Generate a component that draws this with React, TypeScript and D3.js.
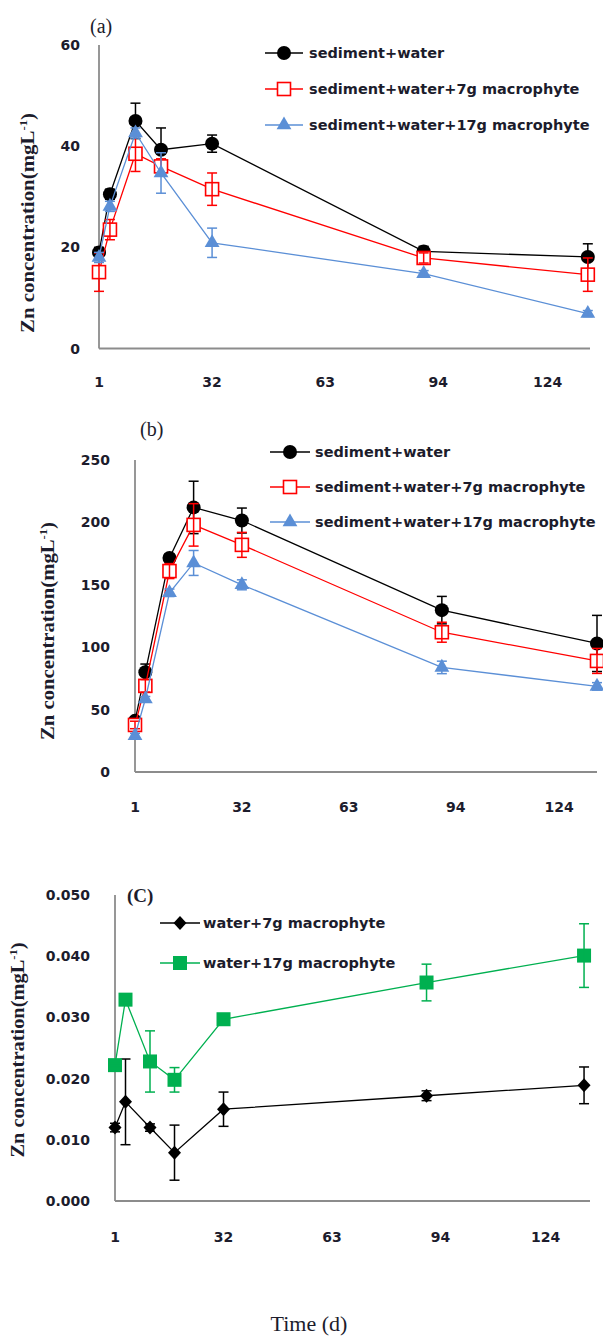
import React from "react";
import * as d3 from "d3";

const days = [1, 4, 11, 18, 32, 90, 135];
const xTicks = [1, 32, 63, 94, 124];

// Panel (a)
const aTicks = [0, 20, 40, 60];
const aSW = [19, 30.5, 45, 39.3, 40.5, 19.2, 18.1];
const aSWErr = [1, 1, 3.5, 4.3, 1.7, 1, 2.6];
const aSW7 = [15.1, 23.5, 38.5, 36, 31.5, 17.9, 14.6];
const aSW7Err = [3.8, 2, 3.5, 1.5, 3.2, 1, 3.3];
const aSW17 = [18, 28.1, 42.6, 34.7, 20.9, 14.8, 6.9];
const aSW17Err = [1, 1, 1, 4, 2.9, 0.6, 0.6];

// Panel (b)
const bTicks = [0, 50, 100, 150, 200, 250];
const bSW = [41, 80, 171.5, 212, 201.5, 129.7, 103];
const bSWErr = [3, 6.5, 3, 21, 10, 11, 22.5];
const bSW7 = [37.7, 69, 161, 198, 182, 112, 89];
const bSW7Err = [3, 5, 6, 17, 10, 8, 10];
const bSW17 = [29, 58.5, 143.6, 167.5, 150, 83.8, 68.6];
const bSW17Err = [2, 2, 3, 10, 4, 5, 3];

// Panel (c)
const cTicks = [0, 0.01, 0.02, 0.03, 0.04, 0.05];
const cW7 = [0.012, 0.0162, 0.012, 0.0079, 0.015, 0.0172, 0.0189];
const cW7Err = [0.0007, 0.007, 0.0006, 0.0045, 0.0028, 0.0008, 0.003];
const cW17 = [0.0222, 0.0329, 0.0228, 0.0198, 0.0297, 0.0357, 0.0401];
const cW17Err = [0.0003, 0.0005, 0.005, 0.002, 0.0003, 0.003, 0.0052];

const BLUE = "#5b8fd6";
const GREEN = "#00b050";
const AXIS = "#8c8c8c";
const TXT = "#1c1c2c";
const TICKFONT = "'DejaVu Sans', sans-serif";
const SERIF = "'Liberation Serif', 'Times New Roman', serif";

type MarkerKind = "circle" | "openSquare" | "triangle" | "diamond" | "square";

function Marker({ kind, x, y, color }: { kind: MarkerKind; x: number; y: number; color: string }) {
  if (kind === "circle") return <circle cx={x} cy={y} r={7} fill={color} />;
  if (kind === "openSquare")
    return <rect x={x - 6.5} y={y - 6.5} width={13} height={13} fill="white" stroke={color} strokeWidth={1.6} />;
  if (kind === "square") return <rect x={x - 7} y={y - 7} width={14} height={14} fill={color} />;
  if (kind === "triangle") {
    const p = d3.symbol().type(d3.symbolTriangle).size(95)();
    return <path d={p || ""} transform={`translate(${x},${y})`} fill={color} />;
  }
  return <path d={`M${x},${y - 7}L${x + 6.5},${y}L${x},${y + 7}L${x - 6.5},${y}Z`} fill={color} />;
}

type Series = { label: string; values: number[]; err: number[]; color: string; marker: MarkerKind };

type PanelProps = {
  x0: number; x1: number; xMax: number;
  yTop: number; yBottom: number; yTicks: number[]; yMax: number; fmt: (v: number) => string;
  yLabelRight: number; xLabelY: number;
  series: Series[];
  legend: { x0: number; x1: number; mx: number; tx: number; ys: number[] };
  title: { x: number; cy: number; len: number };
  tag: { text: string; x: number; y: number; bold: boolean };
};

function Panel(p: PanelProps) {
  const xs = d3.scaleLinear().domain([1, p.xMax]).range([p.x0, p.x1]);
  const ys = d3.scaleLinear().domain([0, p.yMax]).range([p.yBottom, p.yTop]);
  const line = d3.line<number>().x((_, i) => xs(days[i])).y((v) => ys(v));
  return (
    <g>
      <line x1={p.x0} x2={p.x0} y1={p.yTop} y2={p.yBottom} stroke={AXIS} strokeWidth={1.8} />
      <line x1={p.x0} x2={p.x1} y1={p.yBottom} y2={p.yBottom} stroke={AXIS} strokeWidth={1.8} />
      {p.yTicks.map((t) => (
        <text key={t} x={p.yLabelRight} y={ys(t)} dy="0.36em" textAnchor="end" fontFamily={TICKFONT} fontWeight="bold" fontSize={14} fill={TXT}>
          {p.fmt(t)}
        </text>
      ))}
      {xTicks.map((t) => (
        <text key={t} x={xs(t)} y={p.xLabelY} dy="0.36em" textAnchor="middle" fontFamily={TICKFONT} fontWeight="bold" fontSize={14} fill={TXT}>
          {t}
        </text>
      ))}
      {p.series.map((s) => (
        <g key={s.label}>
          <path d={line(s.values) || ""} fill="none" stroke={s.color} strokeWidth={1.3} />
          {s.values.map((v, i) => (
            <Marker key={i} kind={s.marker} x={xs(days[i])} y={ys(v)} color={s.color} />
          ))}
          {s.values.map((v, i) => {
            const cx = xs(days[i]);
            const t = ys(v + s.err[i]);
            const b = ys(Math.max(0, v - s.err[i]));
            return (
              <g key={"e" + i} stroke={s.color} strokeWidth={1.5}>
                <line x1={cx} x2={cx} y1={t} y2={b} />
                <line x1={cx - 5} x2={cx + 5} y1={t} y2={t} />
                <line x1={cx - 5} x2={cx + 5} y1={b} y2={b} />
              </g>
            );
          })}
        </g>
      ))}
      {p.series.map((s, i) => (
        <g key={"l" + i}>
          <line x1={p.legend.x0} x2={p.legend.x1} y1={p.legend.ys[i]} y2={p.legend.ys[i]} stroke={s.color} strokeWidth={1.5} />
          <Marker kind={s.marker} x={p.legend.mx} y={p.legend.ys[i]} color={s.color} />
          <text x={p.legend.tx} y={p.legend.ys[i]} dy="0.36em" fontFamily={TICKFONT} fontWeight="bold" fontSize={14.5} fill={TXT}>
            {s.label}
          </text>
        </g>
      ))}
      <text
        transform={`translate(${p.title.x},${p.title.cy}) rotate(-90)`}
        textAnchor="middle"
        fontFamily={SERIF}
        fontWeight="bold"
        fontSize={18}
        fill={TXT}
        textLength={p.title.len}
        lengthAdjust="spacingAndGlyphs"
      >
        Zn concentration(mgL<tspan fontSize={11} dy={-7}>-1</tspan><tspan dy={7}>)</tspan>
      </text>
      <text x={p.tag.x} y={p.tag.y} fontFamily={SERIF} fontWeight={p.tag.bold ? "bold" : "normal"} fontSize={p.tag.bold ? 19 : 20} fill={TXT}>
        {p.tag.text}
      </text>
    </g>
  );
}

const sedLabels = ["sediment+water", "sediment+water+7g macrophyte", "sediment+water+17g macrophyte"];
const waterLabels = ["water+7g macrophyte", "water+17g macrophyte"];

export default function App() {
  const fmt0 = (v: number) => d3.format("d")(v);
  const fmt3 = (v: number) => d3.format(".3f")(v);
  return (
    <svg width={603} height={1337} style={{ position: "absolute", left: 0, top: 0, background: "white" }}>
      <rect width={603} height={1337} fill="white" />
      <Panel
        x0={99} x1={590} xMax={135.6}
        yTop={45} yBottom={348.5} yTicks={aTicks} yMax={60} fmt={fmt0}
        yLabelRight={80} xLabelY={382}
        series={[
          { label: sedLabels[0], values: aSW, err: aSWErr, color: "#000", marker: "circle" },
          { label: sedLabels[1], values: aSW7, err: aSW7Err, color: "#ff0000", marker: "openSquare" },
          { label: sedLabels[2], values: aSW17, err: aSW17Err, color: BLUE, marker: "triangle" },
        ]}
        legend={{ x0: 265, x1: 303, mx: 284, tx: 309, ys: [53, 89, 125] }}
        title={{ x: 34, cy: 223, len: 220 }}
        tag={{ text: "(a)", x: 90, y: 33, bold: false }}
      />
      <Panel
        x0={135} x1={597} xMax={135}
        yTop={460} yBottom={772} yTicks={bTicks} yMax={250} fmt={fmt0}
        yLabelRight={110} xLabelY={807}
        series={[
          { label: sedLabels[0], values: bSW, err: bSWErr, color: "#000", marker: "circle" },
          { label: sedLabels[1], values: bSW7, err: bSW7Err, color: "#ff0000", marker: "openSquare" },
          { label: sedLabels[2], values: bSW17, err: bSW17Err, color: BLUE, marker: "triangle" },
        ]}
        legend={{ x0: 270, x1: 310, mx: 290, tx: 315, ys: [452, 487, 522] }}
        title={{ x: 54, cy: 631, len: 218 }}
        tag={{ text: "(b)", x: 140, y: 436, bold: false }}
      />
      <Panel
        x0={115} x1={590} xMax={136.7}
        yTop={895} yBottom={1201} yTicks={cTicks} yMax={0.05} fmt={fmt3}
        yLabelRight={90} xLabelY={1237}
        series={[
          { label: waterLabels[0], values: cW7, err: cW7Err, color: "#000", marker: "diamond" },
          { label: waterLabels[1], values: cW17, err: cW17Err, color: GREEN, marker: "square" },
        ]}
        legend={{ x0: 160, x1: 200, mx: 180, tx: 203, ys: [923, 963] }}
        title={{ x: 24, cy: 1050, len: 215 }}
        tag={{ text: "(C)", x: 127, y: 902, bold: true }}
      />
      <text x={309} y={1331} textAnchor="middle" fontFamily={SERIF} fontSize={22} fill={TXT}>
        Time (d)
      </text>
    </svg>
  );
}
